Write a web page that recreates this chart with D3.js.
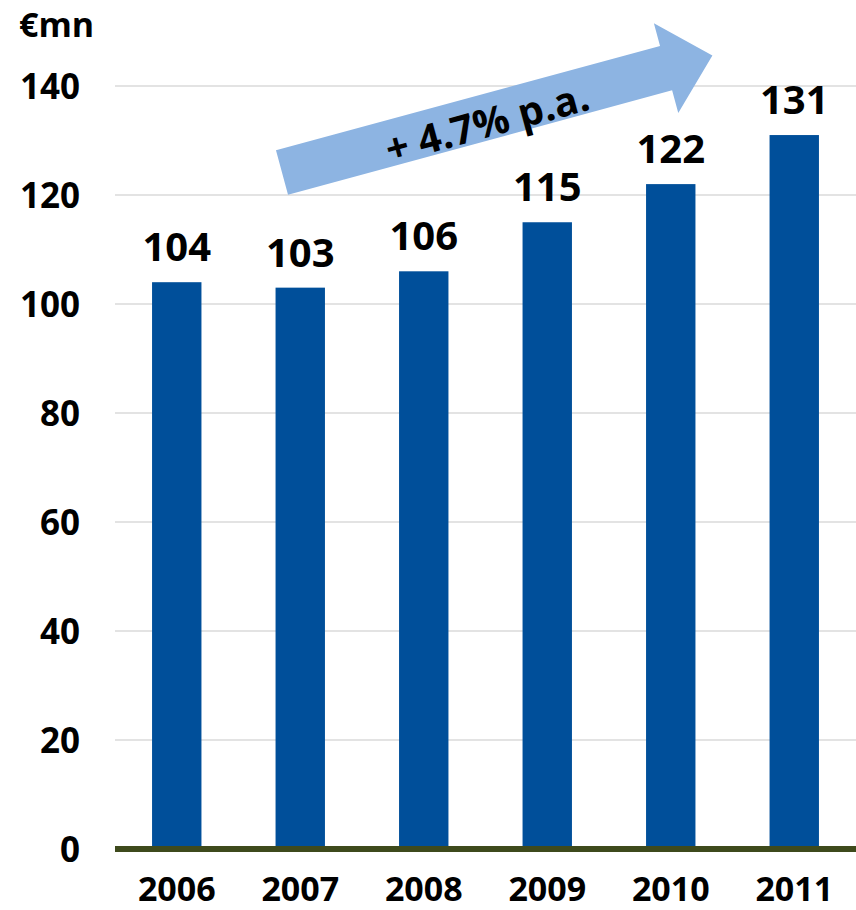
<!DOCTYPE html>
<html>
<head>
<meta charset="utf-8">
<script src="https://cdn.jsdelivr.net/npm/d3@7"></script>
<style>
  html, body { margin: 0; padding: 0; background: #fff; }
  svg { display: block; font-family: "Open Sans", "Noto Sans", sans-serif; font-weight: 700; }
</style>
</head>
<body>
<div id="chart"></div>
<script>
// Annual values, € millions
const years = ["2006", "2007", "2008", "2009", "2010", "2011"];
const values = [104, 103, 106, 115, 122, 131];
const yTicks = [0, 20, 40, 60, 80, 100, 120, 140];
const unitLabel = "€mn";
const growthLabel = "+ 4.7% p.a.";

const W = 856, H = 910;
const plotLeft = 115, plotRight = 856;

const svg = d3.select("#chart").append("svg")
  .attr("width", W).attr("height", H);

const x = d3.scaleBand()
  .domain(years)
  .range([plotLeft, plotRight])
  .paddingInner(0.6)
  .paddingOuter(0.3);

const y = d3.scaleLinear()
  .domain([0, 140])
  .range([849, 86]);

// horizontal gridlines
svg.append("g")
  .selectAll("line")
  .data(yTicks.filter(d => d > 0))
  .join("line")
  .attr("x1", plotLeft).attr("x2", plotRight)
  .attr("y1", d => y(d)).attr("y2", d => y(d))
  .attr("stroke", "#e3e3e3").attr("stroke-width", 2);

// y axis labels
const yAxis = d3.axisLeft(y).tickValues(yTicks).tickSize(0).tickPadding(0);
svg.append("g")
  .attr("transform", "translate(80,0)")
  .call(yAxis)
  .call(g => g.select(".domain").remove())
  .call(g => g.selectAll("text")
    .attr("font-family", "'Open Sans', sans-serif")
    .attr("font-weight", 700)
    .attr("font-size", 35)
    .attr("fill", "#000")
    .attr("dy", "0.35em"));

// unit label
svg.append("text")
  .attr("x", 19).attr("y", 37)
  .attr("font-size", 34)
  .attr("fill", "#000")
  .text(unitLabel);

// bars
svg.append("g")
  .selectAll("rect")
  .data(values)
  .join("rect")
  .attr("x", (d, i) => x(years[i]))
  .attr("width", x.bandwidth())
  .attr("y", d => y(d))
  .attr("height", d => y(0) - y(d))
  .attr("fill", "#004f9a");

// value labels
svg.append("g")
  .selectAll("text")
  .data(values)
  .join("text")
  .attr("x", (d, i) => x(years[i]) + x.bandwidth() / 2)
  .attr("y", d => y(d) - 21)
  .attr("text-anchor", "middle")
  .attr("font-size", 40)
  .attr("fill", "#000")
  .text(d => d);

// baseline
svg.append("line")
  .attr("x1", plotLeft).attr("x2", plotRight)
  .attr("y1", y(0)).attr("y2", y(0))
  .attr("stroke", "#3e4a1c").attr("stroke-width", 6);

// x axis labels
const xAxis = d3.axisBottom(x).tickSize(0).tickPadding(0);
svg.append("g")
  .attr("transform", "translate(0,901)")
  .call(xAxis)
  .call(g => g.select(".domain").remove())
  .call(g => g.selectAll("text")
    .attr("font-family", "'Open Sans', sans-serif")
    .attr("font-weight", 700)
    .attr("font-size", 34)
    .attr("fill", "#000")
    .attr("dy", 0));

// growth arrow
const angle = -15.2;
const len = 446, headLen = 48, shaftHalf = 23, headHalf = 46.5;
const arrow = svg.append("g")
  .attr("transform", `translate(282,172.5) rotate(${angle})`);
arrow.append("path")
  .attr("d", [
    [0, -shaftHalf], [len - headLen, -shaftHalf], [len - headLen, -headHalf],
    [len, 0], [len - headLen, headHalf], [len - headLen, shaftHalf], [0, shaftHalf]
  ].map((p, i) => (i ? "L" : "M") + p[0] + "," + p[1]).join("") + "Z")
  .attr("fill", "#8db4e2");
arrow.append("text")
  .attr("x", 211).attr("y", 20)
  .attr("text-anchor", "middle")
  .attr("font-size", 40)
  .attr("fill", "#000")
  .text(growthLabel);
</script>
</body>
</html>
